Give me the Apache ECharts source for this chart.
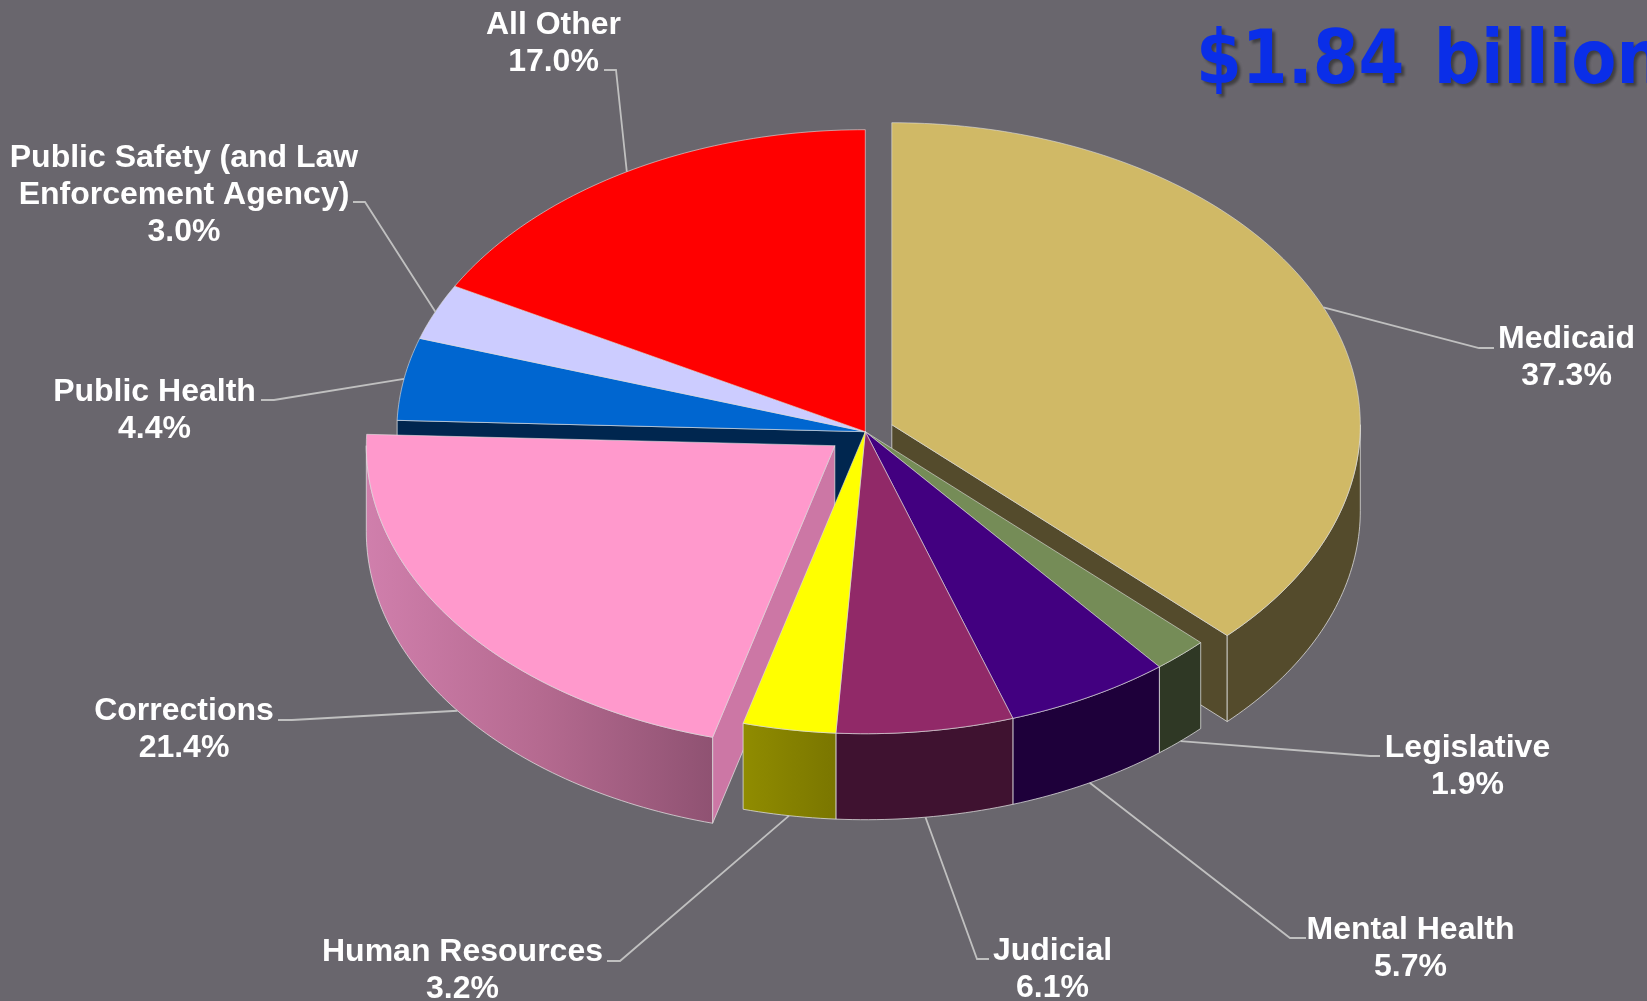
<!DOCTYPE html>
<html>
<head>
<meta charset="utf-8">
<style>html,body{margin:0;padding:0;background:#69666d;overflow:hidden}#chart{width:1647px;height:1001px}</style>
<script src="https://cdn.jsdelivr.net/npm/echarts@6/dist/echarts.min.js"></script>
</head>
<body>
<div id="chart"></div>
<script>
// ---- data ----
const sliceNames = ['Medicaid','Legislative','Mental Health','Judicial','Human Resources','Corrections','Public Health','Public Safety (and Law\nEnforcement Agency)','All Other'];
const sliceValues = [37.3,1.9,5.7,6.1,3.2,21.4,4.4,3.0,17.0];
const titleText = '$1.84\u200a billion';

// ---- styles ----
const topColors  = ['#d0b966','#758c57','#420080','#912968','#ffff00','#ff99cc','#0066d0','#ccccff','#ff0000'];
const wallColors = ['#544b2c','#2f3825','#1e003a','#3f1230','#868200','#cc77a5','#00264f','#5f5f7f','#7f0000'];
// ---- layout ----
const CX = 865.3, CY = 431.7, RX = 468.5, RY = 302, DEPTH = 86;
const explodeOffsets = [[26.5,-7],[0,0],[0,0],[0,0],[0,0],[-30.5,14],[0,0],[0,0],[0,0]];
const labelCenters = [[1566.5,358],[1467.5,767],[1410.5,949],[1052.5,970],[462.5,971],[184,730],[154.5,411],[184,195],[553.5,44]];
const leaderElbows = [[[1479,348],[1494,348]],[[1370,756],[1380,756]],[[1290,938],[1306,938]],[[977,959],[989,959]],[[620,961],[607,961]],[[292,720],[278,720]],[[274,400],[261,400]],[[365,202],[353,202]],[[616,70],[604,70]]];

const total = sliceValues.reduce((a,b)=>a+b,0);
const rad = d => d*Math.PI/180;
const EDGE = 'rgba(225,225,225,0.75)';

function renderSlice(params, api){
  const i = params.dataIndex;
  const value = api.value(0);
  let a0 = 0;
  for (let k=0;k<i;k++) a0 += sliceValues[k]/total*360;
  const a1 = a0 + value/total*360;
  const off = explodeOffsets[i];
  const ox = CX+off[0], oy = CY+off[1];
  const pt = (a,d)=>[ox+RX*Math.sin(rad(a)), oy-RY*Math.cos(rad(a))+(d||0)];
  const arc = (s,e,d)=>{const p=[];const n=Math.max(2,Math.ceil(e-s));for(let t=0;t<=n;t++)p.push(pt(s+(e-s)*t/n,d));return p;};
  const isExp = idx => explodeOffsets[idx][0]!==0;
  const children = [];
  const front = a0 < 270 && a1 > 90;
  const base = isExp(i) ? 3 : (front ? 5 : 1);
  const wallStyle = fill => ({fill, stroke:EDGE, lineWidth:1, lineJoin:'round'});
  // radial walls exposed by an exploded slice
  const sinA0 = Math.sin(rad(a0)), sinA1 = Math.sin(rad(a1));
  const prev = (i+sliceValues.length-1)%sliceValues.length, next=(i+1)%sliceValues.length;
  const radial = a => [[ox,oy],pt(a),pt(a,DEPTH),[ox,oy+DEPTH]];
  if (sinA0 < -0.001 && (isExp(i)||isExp(prev))) {
    children.push({type:'polygon',z2:isExp(i)?base:2,shape:{points:radial(a0)},style:wallStyle(wallColors[i])});
  }
  if (sinA1 > 0.001 && (isExp(i)||isExp(next))) {
    children.push({type:'polygon',z2:isExp(i)?base:2,shape:{points:radial(a1)},style:wallStyle(wallColors[i])});
  }
  // outer wall
  const s = Math.max(a0,90), e = Math.min(a1,270);
  if (e > s) {
    const pts = arc(s,e,0).concat(arc(s,e,DEPTH).reverse());
    let fill = wallColors[i];
    if (i===5) fill = new echarts.graphic.LinearGradient(0,0,1,0,[{offset:0,color:'#d07fac'},{offset:0.5,color:'#b56a90'},{offset:1,color:'#8f5272'}]);
    if (i===4) fill = new echarts.graphic.LinearGradient(0,0,1,0,[{offset:0,color:'#908c00'},{offset:1,color:'#7a7600'}]);
    children.push({type:'polygon',z2:base,shape:{points:pts},style:wallStyle(fill)});
  }
  // top face
  const topPts = [[ox,oy]].concat(arc(a0,a1,0));
  children.push({type:'polygon',z2:base+1,shape:{points:topPts},style:{fill:topColors[i],stroke:EDGE,lineWidth:0.8,lineJoin:'round'}});
  // leader from the rim at the slice's middle angle
  const mid = (a0+a1)/2;
  const anchor = pt(mid, (mid>90&&mid<270)?DEPTH:0);
  const el = leaderElbows[i];
  children.push({type:'polyline',z2:8,shape:{points:[anchor,el[0],el[1]]},style:{fill:null,stroke:'#c0c0c0',lineWidth:1.8}});
  // label
  const c = labelCenters[i];
  children.push({type:'text',z2:9,style:{text:sliceNames[i]+'\n'+value.toFixed(1)+'%',x:c[0],y:c[1],align:'center',verticalAlign:'middle',fill:'#ffffff',font:'bold 32px "Liberation Sans", Arial, sans-serif',lineHeight:37}});
  return {type:'group',children};
}

const chart = echarts.init(document.getElementById('chart'),null,{renderer:'canvas'});
chart.setOption({
  backgroundColor:'#69666d',
  animation:false,
  graphic:[{type:'text',x:1196,y:27,scaleX:0.89,z:10,
    style:{text:titleText,font:'bold 74px "DejaVu Sans", Verdana, sans-serif',fill:'#0a2ee8',align:'left',verticalAlign:'top',
      textShadowColor:'rgba(35,35,35,0.6)',textShadowOffsetX:3,textShadowOffsetY:3,textShadowBlur:3}}],
  series:[{
    type:'custom',
    coordinateSystem:'none',
    renderItem:renderSlice,
    encode:{value:0},
    silent:true,
    data:sliceValues.map(v=>[v])
  }]
});
</script>
</body>
</html>
